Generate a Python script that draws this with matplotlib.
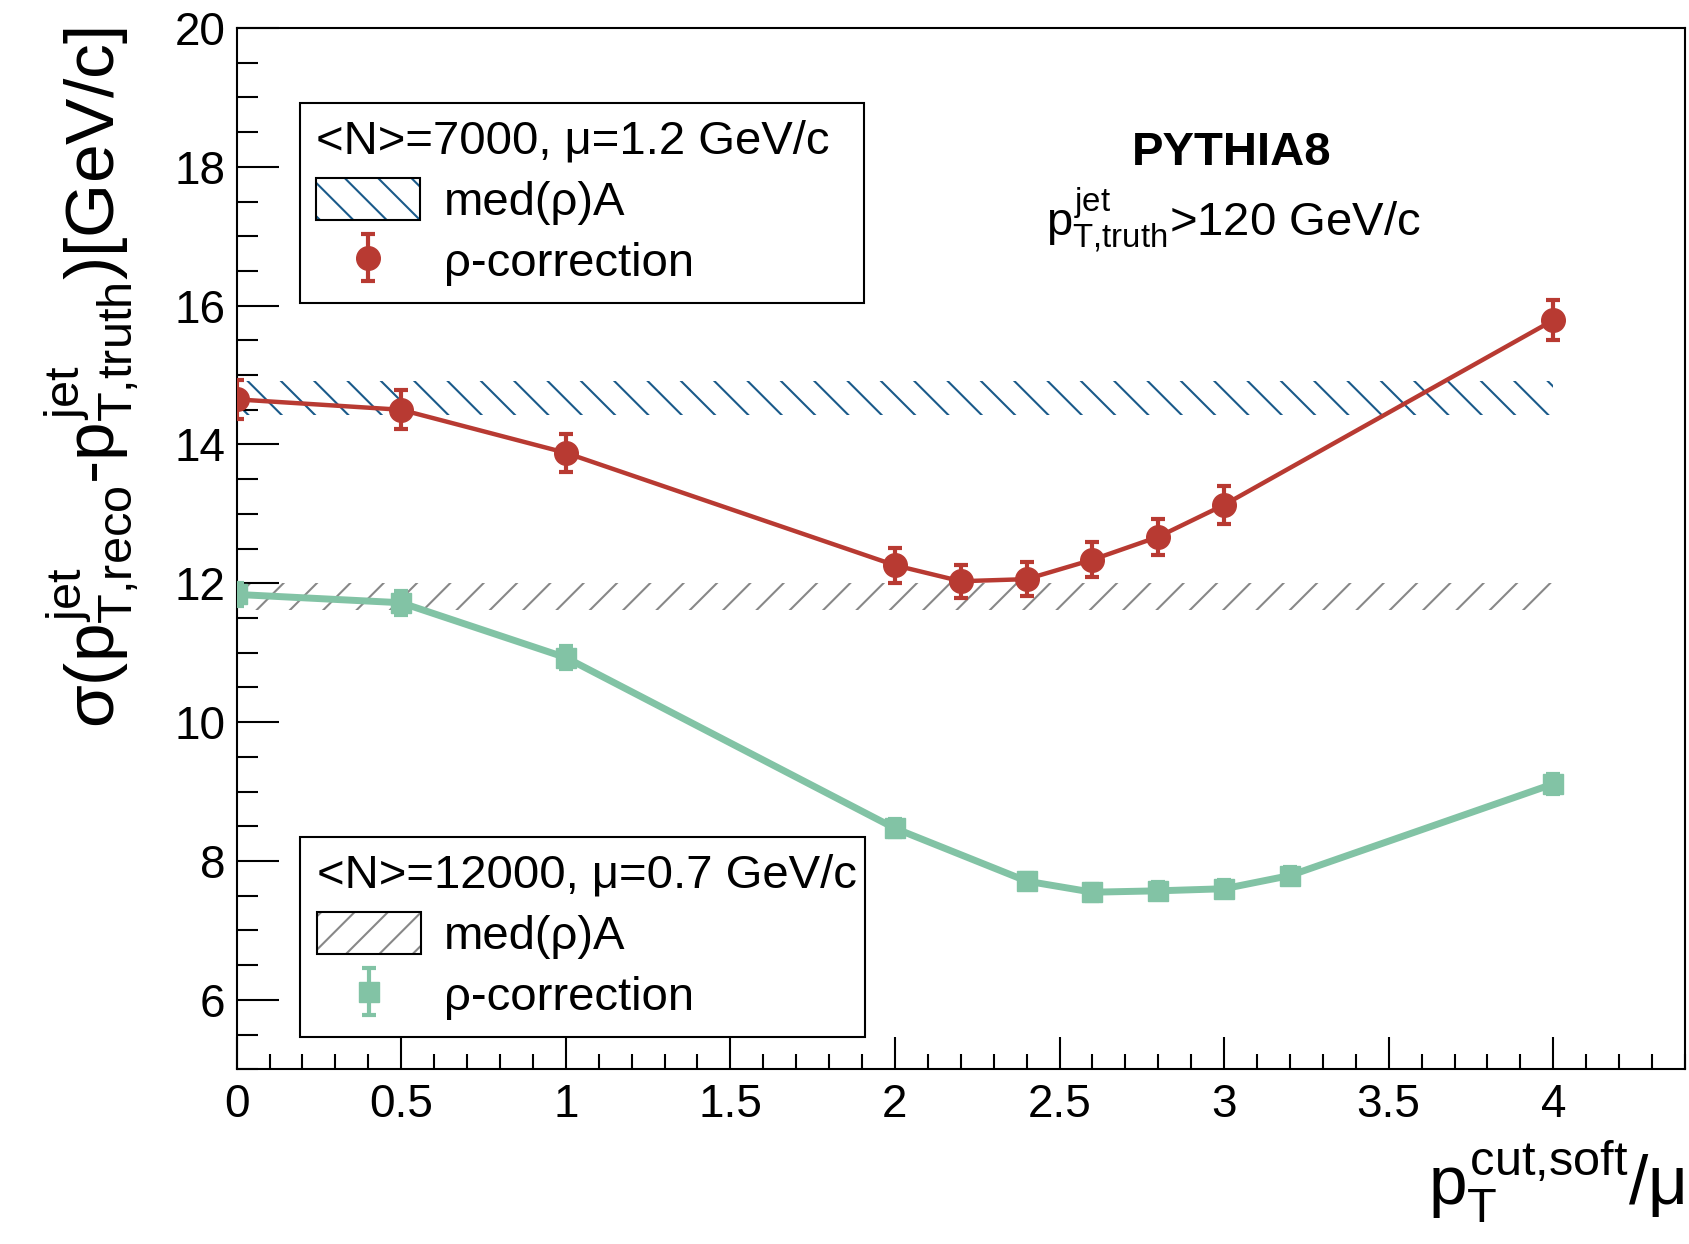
import matplotlib
matplotlib.use('Agg')
import matplotlib.pyplot as plt
import numpy as np
from matplotlib.patches import Patch
from matplotlib.legend_handler import HandlerTuple
from matplotlib.ticker import MultipleLocator

plt.rcParams['font.family'] = ['Liberation Sans', 'DejaVu Sans']
plt.rcParams['mathtext.fontset'] = 'custom'
plt.rcParams['mathtext.rm'] = 'Liberation Sans'
plt.rcParams['mathtext.it'] = 'Liberation Sans'
plt.rcParams['mathtext.bf'] = 'Liberation Sans:bold'
plt.rcParams['hatch.linewidth'] = 1.5

# data
x_red = [0, 0.5, 1, 2, 2.2, 2.4, 2.6, 2.8, 3.0, 4.0]
y_red = [14.65, 14.50, 13.88, 12.26, 12.03, 12.06, 12.34, 12.67, 13.13, 15.79]
e_red = [0.28, 0.28, 0.27, 0.25, 0.24, 0.24, 0.25, 0.26, 0.27, 0.29]

x_green = [0, 0.5, 1, 2, 2.4, 2.6, 2.8, 3.0, 3.2, 4.0]
y_green = [11.84, 11.72, 10.93, 8.47, 7.71, 7.55, 7.57, 7.60, 7.79, 9.11]
e_green = [0.17, 0.17, 0.16, 0.13, 0.12, 0.12, 0.12, 0.12, 0.12, 0.14]

band_x = [0, 4]
band_blue = (14.42, 14.92)
band_gray = (11.61, 12.01)

red = '#b83a32'
green = '#82c3a5'
blue = '#1a5a8a'
gray = '#888888'

fig = plt.figure(figsize=(16.9, 12.44), dpi=100)
ax = fig.add_axes([0.140, 0.1405, 0.857, 0.837])

ax.fill_between(band_x, band_blue[0], band_blue[1], facecolor='none',
                edgecolor=blue, linewidth=0, hatch='\\')
ax.fill_between(band_x, band_gray[0], band_gray[1], facecolor='none',
                edgecolor=gray, linewidth=0, hatch='/')

# lines and markers drawn separately so the legend shows marker + bar only
ax.plot(x_red, y_red, color=red, lw=3.2, zorder=5)
er = ax.errorbar(x_red, y_red, yerr=e_red, color=red, marker='o', ms=17,
                 ls='none', elinewidth=3, capsize=5, capthick=3, zorder=6)
ax.plot(x_green, y_green, color=green, lw=5, zorder=3)
eg = ax.errorbar(x_green, y_green, yerr=e_green, color=green, marker='s', ms=15,
                 ls='none', elinewidth=3, capsize=5, capthick=3, zorder=4)

ax.set_xlim(0, 4.4)
ax.set_ylim(5, 20)
ax.xaxis.set_major_locator(MultipleLocator(0.5))
ax.xaxis.set_minor_locator(MultipleLocator(0.1))
ax.yaxis.set_major_locator(MultipleLocator(2))
ax.yaxis.set_minor_locator(MultipleLocator(0.5))
ax.xaxis.set_major_formatter(plt.FuncFormatter(lambda v, p: '%g' % v))
ax.tick_params(axis='both', which='both', direction='in', width=1.5,
               top=False, right=False, labelsize=33)
ax.tick_params(axis='y', which='major', length=30, pad=8)
ax.tick_params(axis='y', which='minor', length=15)
ax.tick_params(axis='x', which='major', length=23, pad=10)
ax.tick_params(axis='x', which='minor', length=11)
for s in ax.spines.values():
    s.set_linewidth(1.5)

ax.set_ylabel(r'$\sigma(p^{jet}_{T{,}reco}$-$p^{jet}_{T{,}truth})$[GeV/c]',
              fontsize=50, loc='top', labelpad=24)
ax.set_xlabel(r'$p_{T}^{cut{,}soft}/\mu$', fontsize=50, loc='right', labelpad=8)

ax.text(0.687, 0.88, 'PYTHIA8', transform=ax.transAxes, fontsize=34,
        fontweight='bold', ha='center', va='center')
ax.text(0.688, 0.815, r'$p^{jet}_{T{,}truth}$>120 GeV/c', transform=ax.transAxes,
        fontsize=34, ha='center', va='center')

box_b = Patch(facecolor='none', edgecolor=blue, hatch='\\', linewidth=0)
box_g = Patch(facecolor='none', edgecolor=gray, hatch='/', linewidth=0)
frame = Patch(facecolor='none', edgecolor='black', linewidth=1.5)

leg_opts = dict(title_fontsize=34, fontsize=34, loc='upper left', mode='expand',
                fancybox=False, edgecolor='black', framealpha=1, alignment='left',
                handlelength=2.2, handleheight=1.0, handletextpad=0.5,
                labelspacing=0.3, borderpad=0.35, borderaxespad=0,
                handler_map={tuple: HandlerTuple(ndivide=1)})

leg1 = ax.legend([(box_b, frame), er], ['med(ρ)A', 'ρ-correction'],
                 title='<N>=7000, μ=1.2 GeV/c',
                 bbox_to_anchor=(0.0435, 0.928, 0.39, 0.0), **leg_opts)
leg1.get_frame().set_linewidth(1.5)
ax.add_artist(leg1)

leg2 = ax.legend([(box_g, frame), eg], ['med(ρ)A', 'ρ-correction'],
                 title='<N>=12000, μ=0.7 GeV/c',
                 bbox_to_anchor=(0.044, 0.223, 0.39, 0.0), **leg_opts)
leg2.get_frame().set_linewidth(1.5)

fig.savefig('out.png', dpi=100)
